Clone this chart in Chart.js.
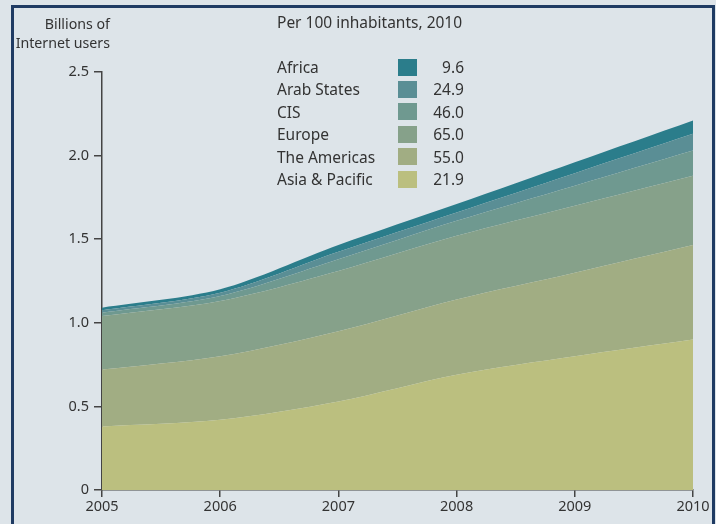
<!DOCTYPE html>
<html><head><meta charset="utf-8">
<script src="https://cdn.jsdelivr.net/npm/chart.js@4/dist/chart.umd.min.js"></script>
<style>
html,body{margin:0;padding:0;background:#dde4e9;width:716px;height:524px;overflow:hidden;font-family:"Noto Sans",sans-serif;color:#333;}
#frame{position:absolute;left:11px;top:5px;width:704px;height:540px;border:3px solid #1f3b63;box-sizing:border-box;}
#wrap{position:absolute;left:0;top:0;width:716px;height:524px;}
#ytitle{position:absolute;right:606px;top:14px;text-align:right;font-size:14.2px;line-height:19px;color:#333;}
#title{position:absolute;left:277px;top:12px;font-size:15.5px;line-height:20px;color:#333;white-space:nowrap;}
.row{position:absolute;left:277px;height:20px;font-size:15.5px;line-height:20px;white-space:nowrap;}
.sw{position:absolute;left:398px;width:19px;height:17px;}
.val{position:absolute;width:70px;left:394px;text-align:right;font-size:15.5px;line-height:20px;}
</style></head>
<body>
<div id="wrap"><canvas id="c" width="716" height="524"></canvas></div>
<div id="frame"></div>
<div id="ytitle">Billions of<br>Internet users</div>
<div id="title">Per 100 inhabitants, 2010</div>
<div id="legend"></div>
<script>
const years = ["2005","2006","2007","2008","2009","2010"];
const yTickLabels = ["0","0.5","1.0","1.5","2.0","2.5"];
const regions = ["Africa","Arab States","CIS","Europe","The Americas","Asia & Pacific"];
const per100 = ["9.6","24.9","46.0","65.0","55.0","21.9"];
const colors = ["#2b7d8b","#5a8e95","#6f9990","#86a18a","#a1ad83","#bbbf7f"];
// billions of internet users per region (stacked bottom-up: Asia & Pacific first)
const asiaPacific = [0.38,0.42,0.53,0.69,0.80,0.90];
const americas    = [0.34,0.38,0.42,0.45,0.50,0.565];
const europe      = [0.32,0.33,0.36,0.38,0.40,0.415];
const cis         = [0.02,0.03,0.07,0.09,0.12,0.15];
const arabStates  = [0.015,0.02,0.045,0.05,0.075,0.10];
const africa      = [0.015,0.02,0.04,0.05,0.065,0.08];

const seriesData = [africa,arabStates,cis,europe,americas,asiaPacific];

// legend
const leg = document.getElementById('legend');
regions.forEach((r,i)=>{
  const c = 67 + i*22.4;
  const d = document.createElement('div'); d.className='row'; d.style.top=(c-10)+'px'; d.textContent=r; leg.appendChild(d);
  const s = document.createElement('div'); s.className='sw'; s.style.top=(c-8.5)+'px'; s.style.background=colors[i]; leg.appendChild(s);
  const v = document.createElement('div'); v.className='val'; v.style.top=(c-10)+'px'; v.textContent=per100[i]; leg.appendChild(v);
});

// datasets bottom-up
const order = [5,4,3,2,1,0];
const datasets = order.map((idx,k)=>({
  label: regions[idx],
  data: seriesData[idx],
  backgroundColor: colors[idx],
  borderWidth: 0,
  pointRadius: 0,
  fill: k===0 ? 'origin' : '-1',
  tension: 0.3
}));

new Chart(document.getElementById('c'), {
  type: 'line',
  data: { labels: years, datasets },
  options: {
    responsive: false,
    animation: false,
    devicePixelRatio: 1,
    layout: { padding: { left: 0, right: 23, top: 72, bottom: 0 } },
    plugins: { legend: { display: false }, tooltip: { enabled: false } },
    scales: {
      x: {
        offset: false,
        grid: { drawOnChartArea: false, drawTicks: true, tickLength: 7, color: '#444', lineWidth: 1.5 },
        border: { display: true, color: '#444', width: 1.5 },
        ticks: { color: '#333', font: { family: 'Noto Sans', size: 14.5 }, padding: 1, maxRotation: 0, autoSkip: false },
        afterFit: s => { s.height = 34; }
      },
      y: {
        stacked: true,
        min: 0, max: 2.5,
        grid: { drawOnChartArea: false, drawTicks: true, tickLength: 8, color: '#444', lineWidth: 1.5 },
        border: { display: true, color: '#444', width: 1.5 },
        ticks: { stepSize: 0.5, color: '#333', font: { family: 'Noto Sans', size: 14.5 }, padding: 5,
          callback: (v, i) => yTickLabels[i] },
        afterFit: s => { s.width = 102; }
      }
    }
  }
});
</script>
</body></html>
